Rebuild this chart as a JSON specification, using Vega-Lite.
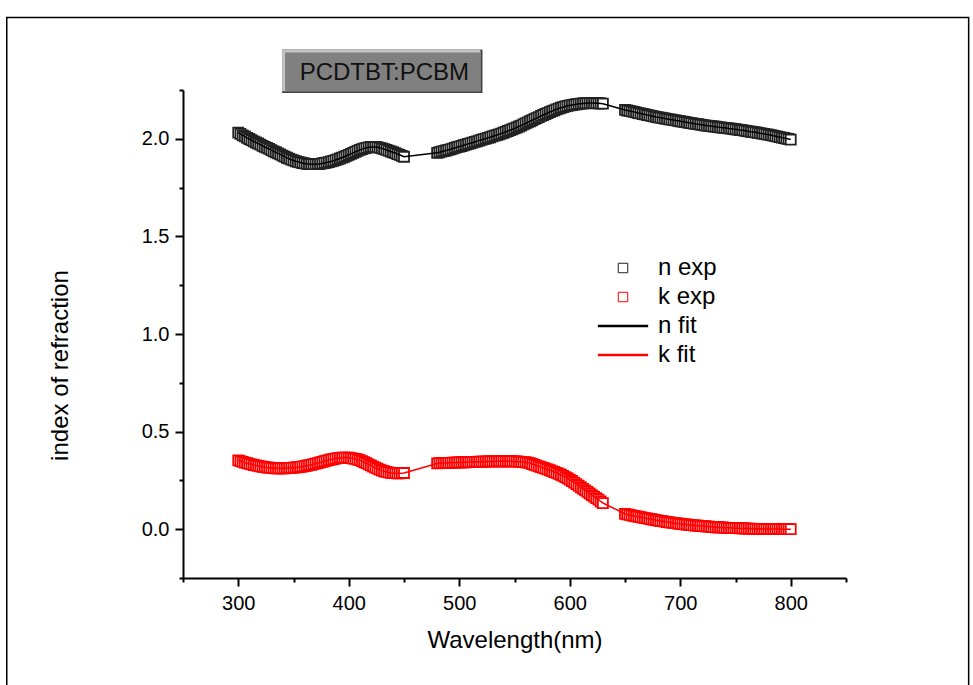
{
"$schema": "https://vega.github.io/schema/vega-lite/v6.json",
"width": 663, "height": 488,
"autosize": {"type": "none"},
"padding": {"left": 183, "top": 90, "right": 127, "bottom": 107},
"background": "white",
"config": {"view": {"stroke": null}, "font": "Liberation Sans",
 "axis": {"domainColor": "#000", "domainWidth": 2, "tickColor": "#000", "tickWidth": 2, "tickSize": 8, "labelColor": "#000", "titleColor": "#000", "labelFont": "Liberation Sans", "titleFont": "Liberation Sans", "labelFontSize": 20, "titleFontSize": 24, "titleFontWeight": "normal", "grid": false},
 "legend": {"labelFont": "Liberation Sans", "labelFontSize": 24, "labelColor": "#000", "padding": 0, "rowPadding": 5}},
"datasets": {"d": [
{"w":300,"n":2.032,"k":0.353},{"w":302,"n":2.025,"k":0.349},{"w":304,"n":2.018,"k":0.345},{"w":306,"n":2.012,"k":0.341},{"w":308,"n":2.005,"k":0.338},
{"w":310,"n":1.999,"k":0.335},{"w":312,"n":1.993,"k":0.332},{"w":314,"n":1.987,"k":0.329},{"w":316,"n":1.981,"k":0.327},{"w":318,"n":1.976,"k":0.324},
{"w":320,"n":1.970,"k":0.322},{"w":322,"n":1.964,"k":0.320},{"w":324,"n":1.959,"k":0.318},{"w":326,"n":1.953,"k":0.316},{"w":328,"n":1.948,"k":0.315},
{"w":330,"n":1.942,"k":0.314},{"w":332,"n":1.936,"k":0.313},{"w":334,"n":1.931,"k":0.312},{"w":336,"n":1.925,"k":0.312},{"w":338,"n":1.920,"k":0.312},
{"w":340,"n":1.914,"k":0.312},{"w":342,"n":1.909,"k":0.312},{"w":344,"n":1.903,"k":0.313},{"w":346,"n":1.898,"k":0.313},{"w":348,"n":1.893,"k":0.314},
{"w":350,"n":1.889,"k":0.315},{"w":352,"n":1.885,"k":0.316},{"w":354,"n":1.882,"k":0.318},{"w":356,"n":1.879,"k":0.319},{"w":358,"n":1.876,"k":0.321},
{"w":360,"n":1.874,"k":0.323},{"w":362,"n":1.872,"k":0.325},{"w":364,"n":1.871,"k":0.328},{"w":366,"n":1.870,"k":0.330},{"w":368,"n":1.870,"k":0.333},
{"w":370,"n":1.870,"k":0.336},{"w":372,"n":1.871,"k":0.339},{"w":374,"n":1.872,"k":0.342},{"w":376,"n":1.874,"k":0.345},{"w":378,"n":1.876,"k":0.348},
{"w":380,"n":1.878,"k":0.351},{"w":382,"n":1.881,"k":0.354},{"w":384,"n":1.884,"k":0.357},{"w":386,"n":1.887,"k":0.359},{"w":388,"n":1.891,"k":0.362},
{"w":390,"n":1.895,"k":0.364},{"w":392,"n":1.899,"k":0.365},{"w":394,"n":1.904,"k":0.366},{"w":396,"n":1.908,"k":0.367},{"w":398,"n":1.913,"k":0.367},
{"w":400,"n":1.918,"k":0.366},{"w":402,"n":1.923,"k":0.364},{"w":404,"n":1.928,"k":0.362},{"w":406,"n":1.933,"k":0.360},{"w":408,"n":1.938,"k":0.357},
{"w":410,"n":1.943,"k":0.354},{"w":412,"n":1.947,"k":0.349},{"w":414,"n":1.951,"k":0.343},{"w":416,"n":1.954,"k":0.338},{"w":418,"n":1.956,"k":0.332},
{"w":420,"n":1.958,"k":0.327},{"w":422,"n":1.958,"k":0.321},{"w":424,"n":1.958,"k":0.315},{"w":426,"n":1.957,"k":0.310},{"w":428,"n":1.954,"k":0.305},
{"w":430,"n":1.951,"k":0.300},{"w":432,"n":1.947,"k":0.297},{"w":434,"n":1.943,"k":0.294},{"w":436,"n":1.939,"k":0.291},{"w":438,"n":1.935,"k":0.289},
{"w":440,"n":1.931,"k":0.288},{"w":442,"n":1.927,"k":0.287},{"w":444,"n":1.922,"k":0.286},{"w":446,"n":1.918,"k":0.286},{"w":448,"n":1.913,"k":0.287},
{"w":450,"n":1.908,"k":0.288},
{"w":480,"n":1.928,"k":0.337},{"w":482,"n":1.931,"k":0.338},{"w":484,"n":1.934,"k":0.338},{"w":486,"n":1.937,"k":0.339},{"w":488,"n":1.940,"k":0.339},
{"w":490,"n":1.943,"k":0.340},{"w":492,"n":1.946,"k":0.340},{"w":494,"n":1.950,"k":0.341},{"w":496,"n":1.953,"k":0.341},{"w":498,"n":1.957,"k":0.342},
{"w":500,"n":1.960,"k":0.342},{"w":502,"n":1.963,"k":0.342},{"w":504,"n":1.967,"k":0.343},{"w":506,"n":1.970,"k":0.343},{"w":508,"n":1.974,"k":0.344},
{"w":510,"n":1.977,"k":0.344},{"w":512,"n":1.980,"k":0.344},{"w":514,"n":1.984,"k":0.345},{"w":516,"n":1.987,"k":0.345},{"w":518,"n":1.991,"k":0.346},
{"w":520,"n":1.994,"k":0.346},{"w":522,"n":1.998,"k":0.346},{"w":524,"n":2.001,"k":0.346},{"w":526,"n":2.005,"k":0.347},{"w":528,"n":2.008,"k":0.347},
{"w":530,"n":2.012,"k":0.347},{"w":532,"n":2.016,"k":0.347},{"w":534,"n":2.019,"k":0.348},{"w":536,"n":2.023,"k":0.348},{"w":538,"n":2.027,"k":0.348},
{"w":540,"n":2.031,"k":0.348},{"w":542,"n":2.035,"k":0.348},{"w":544,"n":2.040,"k":0.348},{"w":546,"n":2.044,"k":0.348},{"w":548,"n":2.049,"k":0.348},
{"w":550,"n":2.053,"k":0.347},{"w":552,"n":2.058,"k":0.347},{"w":554,"n":2.063,"k":0.346},{"w":556,"n":2.068,"k":0.345},{"w":558,"n":2.074,"k":0.344},
{"w":560,"n":2.079,"k":0.343},{"w":562,"n":2.084,"k":0.341},{"w":564,"n":2.090,"k":0.338},{"w":566,"n":2.095,"k":0.334},{"w":568,"n":2.101,"k":0.330},
{"w":570,"n":2.106,"k":0.326},{"w":572,"n":2.111,"k":0.322},{"w":574,"n":2.117,"k":0.318},{"w":576,"n":2.122,"k":0.314},{"w":578,"n":2.127,"k":0.310},
{"w":580,"n":2.132,"k":0.306},{"w":582,"n":2.137,"k":0.302},{"w":584,"n":2.142,"k":0.298},{"w":586,"n":2.146,"k":0.293},{"w":588,"n":2.151,"k":0.289},
{"w":590,"n":2.155,"k":0.284},{"w":592,"n":2.159,"k":0.279},{"w":594,"n":2.162,"k":0.273},{"w":596,"n":2.166,"k":0.267},{"w":598,"n":2.169,"k":0.261},
{"w":600,"n":2.171,"k":0.254},{"w":602,"n":2.173,"k":0.247},{"w":604,"n":2.175,"k":0.239},{"w":606,"n":2.177,"k":0.231},{"w":608,"n":2.179,"k":0.223},
{"w":610,"n":2.180,"k":0.215},{"w":612,"n":2.181,"k":0.207},{"w":614,"n":2.182,"k":0.199},{"w":616,"n":2.183,"k":0.191},{"w":618,"n":2.183,"k":0.183},
{"w":620,"n":2.183,"k":0.175},{"w":622,"n":2.183,"k":0.167},{"w":624,"n":2.182,"k":0.159},{"w":626,"n":2.182,"k":0.151},{"w":628,"n":2.181,"k":0.142},
{"w":630,"n":2.180,"k":0.134},
{"w":650,"n":2.148,"k":0.079},{"w":652,"n":2.145,"k":0.076},{"w":654,"n":2.143,"k":0.073},{"w":656,"n":2.140,"k":0.071},{"w":658,"n":2.138,"k":0.068},
{"w":660,"n":2.135,"k":0.066},{"w":662,"n":2.132,"k":0.064},{"w":664,"n":2.130,"k":0.062},{"w":666,"n":2.127,"k":0.059},{"w":668,"n":2.125,"k":0.057},
{"w":670,"n":2.122,"k":0.055},{"w":672,"n":2.120,"k":0.053},{"w":674,"n":2.117,"k":0.051},{"w":676,"n":2.115,"k":0.049},{"w":678,"n":2.112,"k":0.046},
{"w":680,"n":2.110,"k":0.044},{"w":682,"n":2.108,"k":0.042},{"w":684,"n":2.106,"k":0.041},{"w":686,"n":2.104,"k":0.039},{"w":688,"n":2.102,"k":0.037},
{"w":690,"n":2.100,"k":0.035},{"w":692,"n":2.098,"k":0.034},{"w":694,"n":2.096,"k":0.032},{"w":696,"n":2.094,"k":0.031},{"w":698,"n":2.092,"k":0.029},
{"w":700,"n":2.090,"k":0.028},{"w":702,"n":2.088,"k":0.026},{"w":704,"n":2.086,"k":0.025},{"w":706,"n":2.084,"k":0.024},{"w":708,"n":2.082,"k":0.022},
{"w":710,"n":2.080,"k":0.021},{"w":712,"n":2.078,"k":0.020},{"w":714,"n":2.076,"k":0.019},{"w":716,"n":2.075,"k":0.018},{"w":718,"n":2.073,"k":0.017},
{"w":720,"n":2.071,"k":0.016},{"w":722,"n":2.069,"k":0.015},{"w":724,"n":2.068,"k":0.014},{"w":726,"n":2.066,"k":0.013},{"w":728,"n":2.065,"k":0.012},
{"w":730,"n":2.063,"k":0.011},{"w":732,"n":2.062,"k":0.010},{"w":734,"n":2.060,"k":0.010},{"w":736,"n":2.059,"k":0.009},{"w":738,"n":2.057,"k":0.009},
{"w":740,"n":2.056,"k":0.008},{"w":742,"n":2.055,"k":0.007},{"w":744,"n":2.053,"k":0.007},{"w":746,"n":2.052,"k":0.006},{"w":748,"n":2.050,"k":0.006},
{"w":750,"n":2.049,"k":0.005},{"w":752,"n":2.047,"k":0.005},{"w":754,"n":2.045,"k":0.004},{"w":756,"n":2.044,"k":0.004},{"w":758,"n":2.042,"k":0.004},
{"w":760,"n":2.040,"k":0.003},{"w":762,"n":2.038,"k":0.003},{"w":764,"n":2.036,"k":0.003},{"w":766,"n":2.035,"k":0.002},{"w":768,"n":2.033,"k":0.002},
{"w":770,"n":2.031,"k":0.002},{"w":772,"n":2.029,"k":0.002},{"w":774,"n":2.027,"k":0.002},{"w":776,"n":2.025,"k":0.001},{"w":778,"n":2.023,"k":0.001},
{"w":780,"n":2.021,"k":0.001},{"w":782,"n":2.019,"k":0.001},{"w":784,"n":2.016,"k":0.001},{"w":786,"n":2.014,"k":0.001},{"w":788,"n":2.011,"k":0.001},
{"w":790,"n":2.009,"k":0.001},{"w":792,"n":2.006,"k":0.000},{"w":794,"n":2.004,"k":0.000},{"w":796,"n":2.001,"k":0.000},{"w":798,"n":1.999,"k":0.000},
{"w":800,"n":1.996,"k":0.000}
]},
"layer": [
{"data": {"name": "d"},
 "mark": {"type": "point", "shape": "square", "size": 100, "fill": "white", "fillOpacity": 1, "strokeWidth": 1.8, "opacity": 1},
 "encoding": {
  "x": {"field": "w", "type": "quantitative", "scale": {"domain": [250, 850], "nice": false, "zero": false},
   "axis": {"title": "Wavelength(nm)", "values": [250,300,350,400,450,500,550,600,650,700,750,800,850],
    "labelExpr": "datum.value % 100 === 0 ? datum.label : ''", "format": "d",
    "tickDash": {"condition": {"test": "datum.value % 100 !== 0", "value": [4, 20]}, "value": [20, 0]},
    "labelPadding": 7, "titlePadding": 15}},
  "y": {"field": "n", "type": "quantitative", "scale": {"domain": [-0.25, 2.25], "nice": false, "zero": false},
   "axis": {"title": "index of refraction", "values": [-0.25,0,0.25,0.5,0.75,1,1.25,1.5,1.75,2,2.25],
    "labelExpr": "datum.value % 0.5 === 0 ? format(datum.value, '.1f') : ''",
    "tickDash": {"condition": {"test": "datum.value % 0.5 !== 0", "value": [4, 20]}, "value": [20, 0]},
    "labelPadding": 6, "titlePadding": 69, "titleY": 275}},
  "color": {"datum": "n exp", "type": "nominal",
   "scale": {"domain": ["n exp", "k exp"], "range": ["#222222", "#ff0000"]},
   "legend": {"orient": "none", "legendX": 428, "legendY": 166, "title": null, "symbolType": "square", "symbolSize": 90, "symbolStrokeWidth": 1, "symbolFillColor": "white", "labelOffset": 23}}}},
{"data": {"name": "d"},
 "mark": {"type": "point", "shape": "square", "size": 100, "fill": "white", "fillOpacity": 1, "strokeWidth": 1.8, "opacity": 1},
 "encoding": {"x": {"field": "w", "type": "quantitative"}, "y": {"field": "k", "type": "quantitative", "title": "index of refraction"}, "color": {"datum": "k exp", "type": "nominal"}}},
{"data": {"name": "d"},
 "mark": {"type": "line", "strokeWidth": 1.5},
 "encoding": {"x": {"field": "w", "type": "quantitative"}, "y": {"field": "n", "type": "quantitative", "title": "index of refraction"},
  "stroke": {"datum": "n fit", "type": "nominal",
   "scale": {"domain": ["n fit", "k fit"], "range": ["#000000", "#ff0000"]},
   "legend": {"orient": "none", "legendX": 428, "legendY": 224, "title": null, "symbolType": "M-5.3,0L5.3,0", "symbolSize": 90, "symbolStrokeWidth": 2.5, "labelOffset": 23}}}},
{"data": {"name": "d"},
 "mark": {"type": "line", "strokeWidth": 1.5},
 "encoding": {"x": {"field": "w", "type": "quantitative"}, "y": {"field": "k", "type": "quantitative", "title": "index of refraction"}, "stroke": {"datum": "k fit", "type": "nominal"}}},
{"data": {"values": [{}]},
 "mark": {"type": "rect", "fillOpacity": 0, "stroke": "#000", "strokeWidth": 1.5},
 "encoding": {"x": {"datum": 90.5, "type": "quantitative"}, "x2": {"datum": 961}, "y": {"datum": 2.622, "type": "quantitative"}, "y2": {"datum": -0.9}}},
{"data": {"values": [{}]},
 "mark": {"type": "rect", "fill": "#404040"},
 "encoding": {"x": {"datum": 339.7, "type": "quantitative"}, "x2": {"datum": 521}, "y": {"datum": 2.4576, "type": "quantitative"}, "y2": {"datum": 2.234}}},
{"data": {"values": [{}]},
 "mark": {"type": "rect", "fill": "#c4c4c4"},
 "encoding": {"x": {"datum": 339.7, "type": "quantitative"}, "x2": {"datum": 519.2}, "y": {"datum": 2.4576, "type": "quantitative"}, "y2": {"datum": 2.244}}},
{"data": {"values": [{}]},
 "mark": {"type": "rect", "fill": "#808080"},
 "encoding": {"x": {"datum": 342.4, "type": "quantitative"}, "x2": {"datum": 519.2}, "y": {"datum": 2.442, "type": "quantitative"}, "y2": {"datum": 2.244}}},
{"data": {"values": [{}]},
 "mark": {"type": "text", "text": "PCDTBT:PCBM", "font": "Liberation Sans", "fontSize": 24, "color": "#111111", "align": "center", "baseline": "alphabetic"},
 "encoding": {"x": {"datum": 432.2, "type": "quantitative"}, "y": {"datum": 2.302, "type": "quantitative"}}}
]
}
